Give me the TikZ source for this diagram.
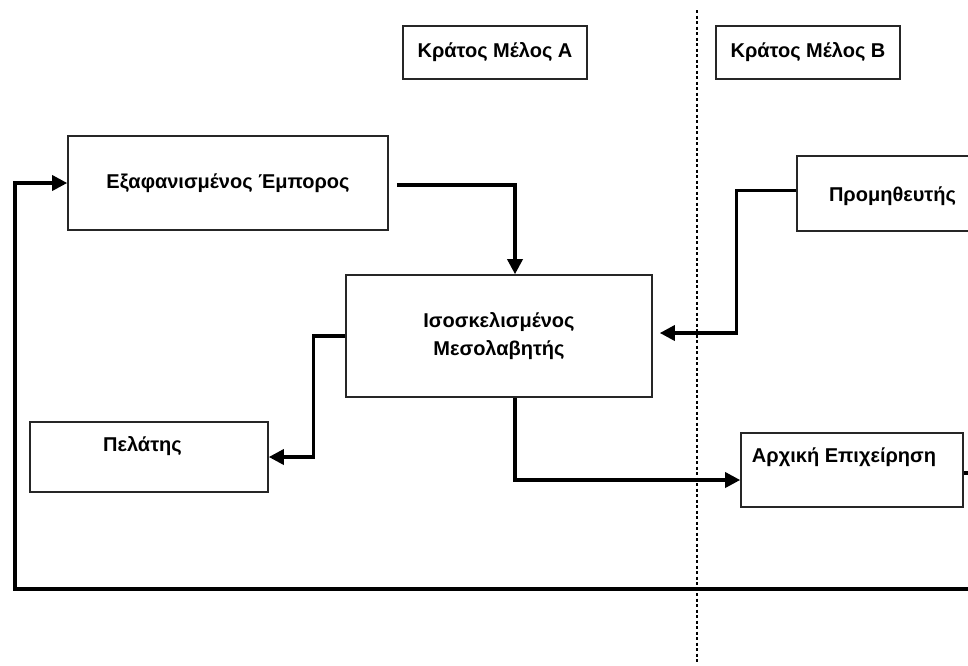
\documentclass[tikz,border=0pt]{standalone}
\usepackage{fontspec}
\setmainfont{Liberation Sans}
\usetikzlibrary{arrows.meta}
\begin{document}
\begin{tikzpicture}[x=1pt,y=-1pt,
  box/.style={draw=black!85,line width=1.6pt,rectangle,inner sep=0pt,
    font=\bfseries\fontsize{20}{24}\selectfont,align=center},
  lbl/.style={inner sep=0pt,font=\bfseries\fontsize{20}{24}\selectfont},
  conn/.style={line width=3.4pt,-{Triangle[length=15pt,width=15pt]}},
  border/.style={dash pattern=on 3pt off 2.5pt,line width=1.3pt}]
\useasboundingbox (0,0) rectangle (968,665);
\clip (0,0) rectangle (968,665);

% member state headers
\node[box,minimum width=184pt,minimum height=53pt] (sA) at (495,52.5) {Κράτος Μέλος A};
\node[box,minimum width=184pt,minimum height=53pt] (sB) at (808,52.5) {Κράτος Μέλος B};

% border between the two states
\coordinate (bt) at (697,10);
\coordinate (bb) at (697,662);
\draw[border] (bt) -- (bb);

% parties
\node[box,minimum width=320pt,minimum height=94pt] (exa) at (228,183) {Εξαφανισμένος Έμπορος};
\node[box,minimum width=306pt,minimum height=122pt] (iso) at (499,336) {Ισοσκελισμένος\\[4pt]Μεσολαβητής};
\node[box,minimum width=203pt,minimum height=75pt] (prom) at (898.5,193.5) {};
\node[lbl] (promt) at (892.5,196) {Προμηθευτής};
\node[box,minimum width=238pt,minimum height=70pt] (pel) at (149,457) {};
\node[lbl] (pelt) at (142.5,446) {Πελάτης};
\node[box,minimum width=222pt,minimum height=74pt] (arx) at (852,470) {};
\node[lbl] (arxt) at (844,457) {Αρχική Επιχείρηση};

% flows
\draw[conn] ([xshift=8pt,yshift=-2pt]exa.east) -| ([xshift=16pt]iso.north);
\draw[conn,shorten >=7pt] ([yshift=3pt]prom.west) -- ++(-60,0) |- ([yshift=3pt]iso.east);
\draw[conn] (iso.west) -- ++(-32,0) |- (pel.east);
\draw[conn] ([xshift=16pt]iso.south) |- ([yshift=-10pt]arx.west);
\draw[conn] ([yshift=-3pt]arx.east) -- ++(40,0) |- (15,589) |- (exa.west);
\end{tikzpicture}
\end{document}
